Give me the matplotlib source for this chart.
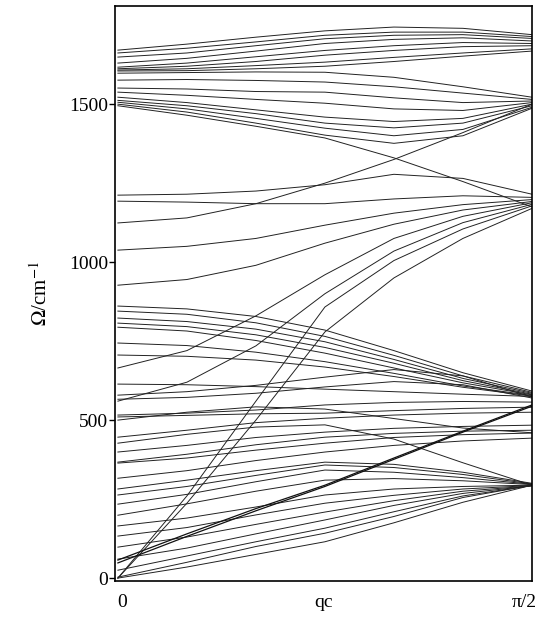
import matplotlib.pyplot as plt
import matplotlib.transforms as mtransforms
import numpy as np

plt.rcParams['font.family'] = ['Liberation Serif', 'DejaVu Serif']
plt.rcParams['mathtext.fontset'] = 'stix'

# q points across the zone, 0 .. pi/2 (7 sample points)
qc = np.linspace(0, np.pi / 2, 7)

# dispersion branches, Omega in cm^-1 read at each q point
# top band, 1600-1750
band_a = [
    [1671, 1690, 1712, 1732, 1744, 1740, 1720],
    [1662, 1677, 1697, 1718, 1728, 1728, 1714],
    [1649, 1662, 1685, 1707, 1718, 1720, 1708],
    [1630, 1645, 1668, 1692, 1705, 1710, 1700],
    [1617, 1630, 1650, 1670, 1685, 1695, 1692],
    [1612, 1620, 1635, 1655, 1670, 1682, 1685],
    [1608, 1612, 1622, 1633, 1648, 1662, 1675],
    [1605, 1606, 1612, 1620, 1635, 1652, 1668],
]
# 1400-1600 band, bending down
band_b = [
    [1598, 1600, 1602, 1601, 1585, 1555, 1522],
    [1576, 1578, 1575, 1570, 1555, 1535, 1515],
    [1551, 1548, 1540, 1538, 1520, 1505, 1510],
    [1538, 1528, 1515, 1503, 1485, 1480, 1505],
    [1522, 1505, 1482, 1459, 1445, 1455, 1500],
    [1512, 1495, 1470, 1440, 1425, 1440, 1495],
    [1506, 1485, 1455, 1424, 1400, 1420, 1490],
    [1500, 1475, 1440, 1402, 1376, 1400, 1487],
    [1495, 1465, 1430, 1393, 1330, 1255, 1175],
]
# 900-1250 band
band_c = [
    [1212, 1215, 1225, 1245, 1278, 1265, 1215],
    [1193, 1190, 1185, 1185, 1200, 1210, 1205],
    [1124, 1140, 1185, 1250, 1325, 1410, 1500],
    [1038, 1050, 1075, 1117, 1155, 1182, 1198],
    [927, 945, 990, 1060, 1120, 1165, 1192],
]
# steep branches climbing to ~1200
band_d = [
    [665, 720, 830, 960, 1075, 1145, 1188],
    [560, 620, 735, 900, 1035, 1125, 1183],
    [0, 260, 560, 858, 1005, 1105, 1178],
    [0, 237, 500, 779, 950, 1075, 1170],
]
# 560-860 band
band_e = [
    [861, 852, 828, 785, 720, 650, 592],
    [845, 835, 808, 765, 705, 640, 588],
    [823, 812, 788, 748, 692, 632, 585],
    [807, 796, 770, 730, 680, 625, 582],
    [794, 782, 752, 712, 665, 618, 580],
    [744, 736, 715, 685, 648, 608, 578],
    [706, 702, 690, 668, 638, 604, 576],
    [614, 612, 606, 598, 590, 582, 575],
    [579, 590, 610, 636, 660, 640, 573],
    [566, 572, 585, 605, 622, 612, 570],
]
# 300-560 branches
band_f = [
    [516, 522, 532, 548, 556, 559, 557],
    [510, 515, 520, 522, 530, 537, 541],
    [446, 468, 492, 506, 516, 522, 525],
    [399, 420, 445, 462, 474, 480, 484],
    [367, 392, 422, 446, 458, 465, 468],
    [364, 380, 405, 427, 445, 454, 459],
    [316, 340, 372, 399, 420, 434, 443],
    [500, 525, 542, 535, 505, 475, 460],
    [427, 455, 478, 485, 440, 365, 294],
]
# the double straight branch
band_g = [
    [57, 140, 220, 294, 380, 465, 548],
    [48, 132, 213, 290, 376, 462, 544],
]
# low band converging at ~295
band_i = [
    [282, 310, 340, 367, 360, 335, 300],
    [263, 290, 325, 358, 350, 328, 298],
    [234, 265, 305, 342, 335, 318, 297],
    [199, 235, 275, 310, 315, 308, 296],
    [165, 190, 225, 263, 282, 290, 294],
    [133, 160, 200, 237, 262, 282, 293],
    [98, 130, 170, 209, 245, 275, 292],
    [60, 95, 140, 184, 230, 268, 292],
    [25, 70, 115, 158, 210, 260, 293],
    [3, 50, 100, 142, 195, 255, 294],
    [0, 35, 75, 115, 175, 240, 294],
]

fig = plt.figure(figsize=(5.45, 6.21), dpi=100)
ax = fig.add_axes([0.211, 0.064, 0.765, 0.926])

for band in [band_a, band_b, band_c, band_d, band_e, band_f, band_i]:
    for w in band:
        ax.plot(qc, w, color='#222222', lw=0.7)
for w in band_g:
    ax.plot(qc, w, color='#111111', lw=0.9)

ax.set_xlim(-0.011, np.pi / 2)
ax.set_ylim(-10, 1810)
ax.set_xticks([0, np.pi / 2])
ax.set_xticklabels(['0', 'π/2'], fontsize=14)
ax.set_yticks([0, 500, 1000, 1500])
ax.set_yticklabels(['0', '500', '1000', '1500'], fontsize=14)
ax.tick_params(axis='x', length=0, pad=9)
ax.tick_params(axis='y', length=4, width=1, pad=1)

# nudge the x tick labels like in the original
shifts = [4, -8]
for lab, dx in zip(ax.get_xticklabels(), shifts):
    lab.set_transform(lab.get_transform() +
                      mtransforms.ScaledTranslation(dx / 100, 0, fig.dpi_scale_trans))

ax.set_xlabel('qc', fontsize=14)
ax.xaxis.set_label_coords(0.5, -0.022)
ax.set_ylabel(r'$\Omega$/cm$^{-1}$', fontsize=15, labelpad=12)
for s in ax.spines.values():
    s.set_linewidth(1.2)

fig.savefig('out.png', dpi=100)
